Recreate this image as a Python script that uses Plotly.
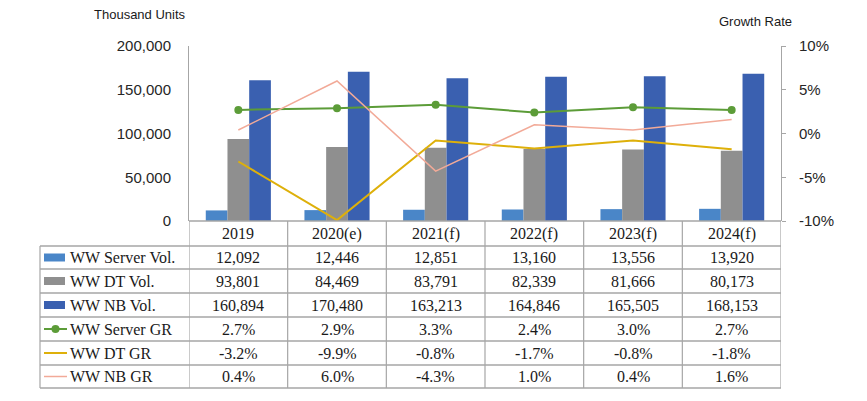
import plotly.graph_objects as go

categories = ["2019", "2020(e)", "2021(f)", "2022(f)", "2023(f)", "2024(f)"]
server_vol = [12092, 12446, 12851, 13160, 13556, 13920]
dt_vol = [93801, 84469, 83791, 82339, 81666, 80173]
nb_vol = [160894, 170480, 163213, 164846, 165505, 168153]
server_gr = [2.7, 2.9, 3.3, 2.4, 3.0, 2.7]
dt_gr = [-3.2, -9.9, -0.8, -1.7, -0.8, -1.8]
nb_gr = [0.4, 6.0, -4.3, 1.0, 0.4, 1.6]
series_names = ["WW Server Vol.", "WW DT Vol.", "WW NB Vol.", "WW Server GR", "WW DT GR", "WW NB GR"]
left_ticks = [0, 50000, 100000, 150000, 200000]
right_ticks = [-10, -5, 0, 5, 10]
right_tick_text = ["-10%", "-5%", "0%", "5%", "10%"]

C_SERVER = "rgb(74,134,200)"
C_DT = "rgb(143,143,143)"
C_NB = "rgb(58,96,176)"
C_SGR = "rgb(92,156,56)"
C_DGR = "rgb(222,176,10)"
C_NGR = "rgb(242,170,152)"
GRID = "rgb(166,166,166)"
SERIF = "Liberation Serif"
SANS = "Liberation Sans"

W, H = 867, 401
L, R, T, B = 189, 781, 46, 221

def px(x):
    return (x - L) / (R - L)

def py(y):
    return (B - y) / (B - T)

fig = go.Figure()
fig.add_bar(x=categories, y=server_vol, name=series_names[0], marker=dict(color=C_SERVER, line=dict(width=0)))
fig.add_bar(x=categories, y=dt_vol, name=series_names[1], marker=dict(color=C_DT, line=dict(width=0)))
fig.add_bar(x=categories, y=nb_vol, name=series_names[2], marker=dict(color=C_NB, line=dict(width=0)))
fig.add_scatter(x=categories, y=server_gr, name=series_names[3], yaxis="y2", mode="lines+markers",
                line=dict(color=C_SGR, width=2), marker=dict(size=8, color=C_SGR))
fig.add_scatter(x=categories, y=dt_gr, name=series_names[4], yaxis="y2", mode="lines",
                line=dict(color=C_DGR, width=2))
fig.add_scatter(x=categories, y=nb_gr, name=series_names[5], yaxis="y2", mode="lines",
                line=dict(color=C_NGR, width=1.5))

fig.update_layout(
    width=W, height=H,
    margin=dict(l=L, r=W - R, t=T, b=H - B, pad=0),
    paper_bgcolor="white", plot_bgcolor="white",
    showlegend=False, barmode="group", bargap=0.34, bargroupgap=0,
    font=dict(family=SANS, size=15, color="#262626"),
    xaxis=dict(type="category", range=[-0.5, 5.5], showticklabels=False, ticks="",
               showgrid=False, zeroline=False, showline=False, fixedrange=True),
    yaxis=dict(range=[0, 200000], tickvals=left_ticks, tickformat=",d", showgrid=False,
               zeroline=False, showline=True, linecolor=GRID, linewidth=1, ticks="",
               ticklabelstandoff=14, tickfont=dict(family=SANS, size=15, color="#262626")),
    yaxis2=dict(range=[-10, 10], tickvals=right_ticks, ticktext=right_tick_text, overlaying="y", side="right",
                showgrid=False, zeroline=False, showline=True, linecolor=GRID, linewidth=1,
                ticks="outside", ticklen=4, tickcolor=GRID, ticklabelstandoff=10,
                tickfont=dict(family=SANS, size=15, color="#262626")),
)

shapes = []
shapes.append(dict(type="line", xref="paper", yref="paper", x0=0, x1=1, y0=0, y1=0,
                   line=dict(color=GRID, width=1.5)))
rows = [221, 246, 269, 293, 317, 341, 365, 388]
xl = 40
for i, yb in enumerate(rows[1:]):
    shapes.append(dict(type="line", xref="paper", yref="paper", x0=px(xl), x1=1, y0=py(yb), y1=py(yb),
                       line=dict(color=GRID, width=1.5)))
for k in range(len(categories) + 1):
    shapes.append(dict(type="line", xref="x", yref="paper", x0=k - 0.5, x1=k - 0.5,
                       y0=py(221), y1=py(388), line=dict(color=GRID, width=1.2)))
shapes.append(dict(type="line", xref="paper", yref="paper", x0=px(xl), x1=px(xl),
                   y0=py(246), y1=py(388), line=dict(color=GRID, width=1.2)))

TXT = dict(family=SERIF, size=16, color="#1a1a1a")
annotations = []
for k, c in enumerate(categories):
    annotations.append(dict(x=k, y=py((rows[0] + rows[1]) / 2), xref="x", yref="paper", text=c,
                            xanchor="center", yanchor="middle", showarrow=False, font=TXT))

table_vals = [
    [f"{v:,}" for v in server_vol],
    [f"{v:,}" for v in dt_vol],
    [f"{v:,}" for v in nb_vol],
    [f"{v:.1f}%" for v in server_gr],
    [f"{v:.1f}%" for v in dt_gr],
    [f"{v:.1f}%" for v in nb_gr],
]
key_colors = [C_SERVER, C_DT, C_NB, C_SGR, C_DGR, C_NGR]
for r in range(6):
    yc = (rows[r + 1] + rows[r + 2]) / 2
    for k in range(len(categories)):
        annotations.append(dict(x=k, y=py(yc), xref="x", yref="paper", text=table_vals[r][k],
                                xanchor="center", yanchor="middle", showarrow=False, font=TXT))
    annotations.append(dict(x=px(68), y=py(yc), xref="paper", yref="paper", text=series_names[r],
                            xanchor="left", yanchor="middle", showarrow=False, font=TXT))
    if r < 3:
        shapes.append(dict(type="rect", xref="paper", yref="paper", x0=px(44), x1=px(65),
                           y0=py(yc - 4), y1=py(yc + 4), fillcolor=key_colors[r], line=dict(width=0)))
    else:
        shapes.append(dict(type="line", xref="paper", yref="paper", x0=px(44), x1=px(67),
                           y0=py(yc), y1=py(yc),
                           line=dict(color=key_colors[r], width=2 if r < 5 else 1.5)))
        if r == 3:
            shapes.append(dict(type="circle", xref="paper", yref="paper", x0=px(51.5), x1=px(59.5),
                               y0=py(yc - 4), y1=py(yc + 4), fillcolor=C_SGR, line=dict(width=0)))

annotations.append(dict(x=px(92), y=py(14), xref="paper", yref="paper", text="Thousand Units",
                        xanchor="left", yanchor="middle", showarrow=False,
                        font=dict(family=SANS, size=13, color="#1a1a1a")))
annotations.append(dict(x=px(717), y=py(22), xref="paper", yref="paper", text="Growth Rate",
                        xanchor="left", yanchor="middle", showarrow=False,
                        font=dict(family=SANS, size=13, color="#1a1a1a")))

fig.update_layout(shapes=shapes, annotations=annotations)
fig.write_html("out.html", config={"displayModeBar": False},
               post_script="document.body.style.margin='0';document.body.style.overflow='hidden';")
